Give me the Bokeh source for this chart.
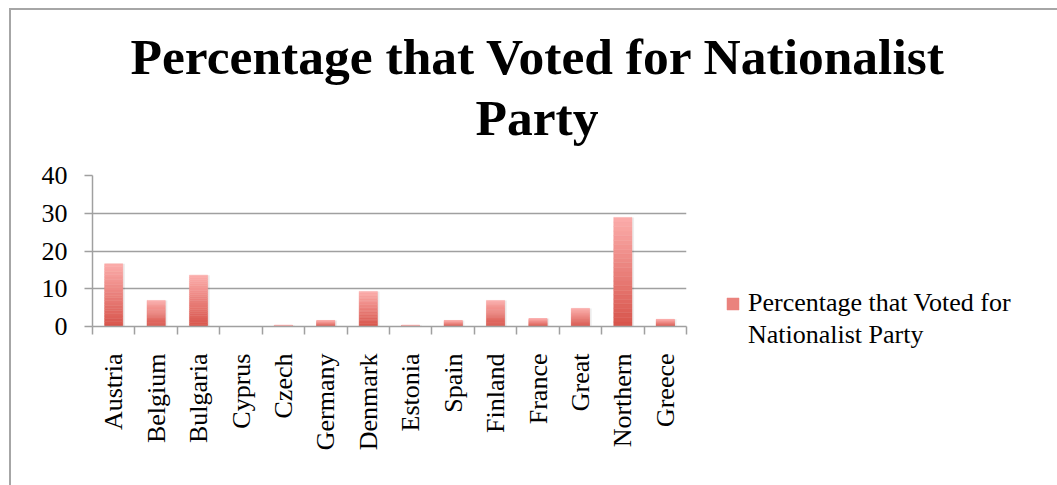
import math
from bokeh.plotting import figure
from bokeh.models import (ColumnDataSource, Range1d, FixedTicker, Legend, LegendItem, Title)
from bokeh.embed import file_html
from bokeh.resources import INLINE

countries = ["Austria", "Belgium", "Bulgaria", "Cyprus", "Czech", "Germany", "Denmark",
             "Estonia", "Spain", "Finland", "France", "Great", "Northern", "Greece"]
values = [16.6, 6.9, 13.6, 0.0, 0.3, 1.6, 9.3, 0.3, 1.6, 6.9, 2.1, 4.8, 28.9, 1.9]
y_ticks = [0, 10, 20, 30, 40]
series_lines = ["Percentage that Voted for", "Nationalist Party"]
title_lines = ["Percentage that Voted for Nationalist", "Party"]

TOP = (251, 171, 169)
BOT = (216, 86, 77)
N = 24

xs, bottoms, tops, colors = [], [], [], []
for i, v in enumerate(values):
    for k in range(N):
        f = k / (N - 1)
        c = tuple(int(round(BOT[j] + (TOP[j] - BOT[j]) * f)) for j in range(3))
        xs.append(i + 0.5)
        bottoms.append(v * k / N)
        tops.append(v * (k + 1) / N)
        colors.append("#%02x%02x%02x" % c)
src = ColumnDataSource(dict(x=xs, bottom=bottoms, top=tops, color=colors))
shadow = ColumnDataSource(dict(x=[i + 0.5 + 0.05 for i in range(len(values))], top=values))

p = figure(frame_width=594, frame_height=151, output_backend="svg", toolbar_location=None,
           x_range=Range1d(0, len(countries)), y_range=Range1d(0, 40),
           min_border_left=81, min_border_right=371, min_border_top=165, min_border_bottom=159,
           margin=(8, 0, 0, 9),
           styles={"border-left": "2px solid #a6a6a6", "border-top": "2px solid #a6a6a6"})
p.title = None
p.background_fill_color = "white"
p.border_fill_color = "white"
p.outline_line_color = None

p.vbar(x="x", top="top", bottom=0, width=0.43, source=shadow,
       fill_color="black", fill_alpha=0.07, line_color=None)
r = p.vbar(x="x", bottom="bottom", top="top", width=0.43, source=src,
           fill_color="color", line_color="color", line_width=0.5)
dummy = p.vbar(x=[], top=[], width=0.43, fill_alpha=0, line_alpha=0)

GRAY = "#a0a0a0"
p.xgrid.visible = False
p.ygrid.grid_line_color = GRAY
p.ygrid.grid_line_width = 1.5
p.ygrid.ticker = FixedTicker(ticks=y_ticks)

ya = p.yaxis[0]
ya.ticker = FixedTicker(ticks=y_ticks)
ya.axis_line_color = GRAY
ya.axis_line_width = 1.5
ya.major_tick_line_color = GRAY
ya.major_tick_line_width = 1.5
ya.major_tick_in = 0
ya.major_tick_out = 8
ya.minor_tick_line_color = None
ya.major_label_text_font = "Liberation Serif"
ya.major_label_text_font_size = "26px"
ya.major_label_text_color = "black"
ya.major_label_standoff = 17

xa = p.xaxis[0]
xa.ticker = FixedTicker(ticks=[i + 0.5 for i in range(len(countries))],
                        minor_ticks=list(range(len(countries) + 1)))
xa.major_label_overrides = {i + 0.5: c for i, c in enumerate(countries)}
xa.major_label_orientation = math.pi / 2
xa.axis_line_color = GRAY
xa.axis_line_width = 1.5
xa.major_tick_line_color = None
xa.major_tick_in = 0
xa.major_tick_out = 0
xa.minor_tick_line_color = GRAY
xa.minor_tick_line_width = 1.5
xa.minor_tick_in = 0
xa.minor_tick_out = 8
xa.major_label_text_font = "Liberation Serif"
xa.major_label_text_font_size = "26px"
xa.major_label_text_color = "black"
xa.major_label_standoff = 19

# titles: first added sits closest to the frame
for line, standoff, offset in ((title_lines[1], 60, 383), (title_lines[0], -56, 38)):
    t = Title(text=line, align="left", offset=offset, text_font="Liberation Serif",
              text_font_style="bold", text_font_size="51.5px", text_color="black",
              standoff=standoff)
    p.add_layout(t, "above")

legend = Legend(items=[LegendItem(label=series_lines[0], renderers=[r], index=12),
                       LegendItem(label=series_lines[1], renderers=[dummy])],
                location=(39, -24))
legend.border_line_color = None
legend.background_fill_alpha = 0
legend.label_text_font = "Liberation Serif"
legend.label_text_font_size = "26px"
legend.label_text_color = "black"
legend.glyph_width = 15
legend.glyph_height = 15
legend.margin = 0
legend.padding = 0
legend.spacing = 2
legend.label_standoff = 8
p.add_layout(legend, "right")

open("out.html", "w").write(file_html(p, INLINE))
